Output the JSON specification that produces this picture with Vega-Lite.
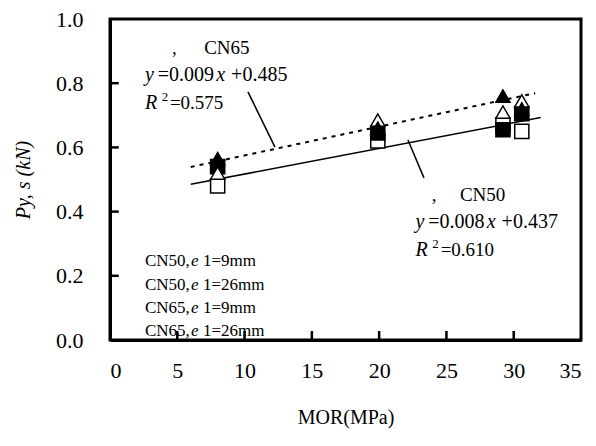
{
  "$schema": "https://vega.github.io/schema/vega-lite/v6.json",
  "width": 471,
  "height": 321,
  "autosize": "none",
  "padding": {"left": 110, "top": 19, "right": 15, "bottom": 106},
  "background": "white",
  "config": {
    "view": {"stroke": "black", "strokeWidth": 3},
    "font": "Liberation Serif",
    "axis": {
      "labelFont": "Liberation Serif",
      "titleFont": "Liberation Serif",
      "labelFontSize": 22,
      "titleFontSize": 20,
      "labelColor": "black",
      "titleColor": "black",
      "domainColor": "black",
      "domainWidth": 3,
      "ticks": false,
      "grid": false,
      "titleFontWeight": "normal"
    }
  },
  "datasets": {
    "pts": [
      {"MOR": 8.0, "P": 0.54, "series": "CN50,e1=9mm"},
      {"MOR": 8.0, "P": 0.48, "series": "CN50,e1=26mm"},
      {"MOR": 8.0, "P": 0.565, "series": "CN65,e1=9mm"},
      {"MOR": 8.0, "P": 0.52, "series": "CN65,e1=26mm"},
      {"MOR": 19.9, "P": 0.645, "series": "CN50,e1=9mm"},
      {"MOR": 19.9, "P": 0.62, "series": "CN50,e1=26mm"},
      {"MOR": 19.9, "P": 0.66, "series": "CN65,e1=9mm"},
      {"MOR": 19.9, "P": 0.685, "series": "CN65,e1=26mm"},
      {"MOR": 29.2, "P": 0.655, "series": "CN50,e1=9mm"},
      {"MOR": 29.2, "P": 0.67, "series": "CN50,e1=26mm"},
      {"MOR": 29.2, "P": 0.76, "series": "CN65,e1=9mm"},
      {"MOR": 29.2, "P": 0.71, "series": "CN65,e1=26mm"},
      {"MOR": 30.6, "P": 0.705, "series": "CN50,e1=9mm"},
      {"MOR": 30.6, "P": 0.65, "series": "CN50,e1=26mm"},
      {"MOR": 30.6, "P": 0.72, "series": "CN65,e1=9mm"},
      {"MOR": 30.6, "P": 0.745, "series": "CN65,e1=26mm"}
    ],
    "fits": [
      {"fit": "CN50", "MOR": 6, "P": 0.485},
      {"fit": "CN50", "MOR": 32, "P": 0.693},
      {"fit": "CN65", "MOR": 6, "P": 0.539},
      {"fit": "CN65", "MOR": 31.6, "P": 0.769}
    ],
    "leaders": [
      {"leader": "CN65", "MOR": 10.25, "P": 0.773},
      {"leader": "CN65", "MOR": 12.26, "P": 0.601},
      {"leader": "CN50", "MOR": 22.14, "P": 0.623},
      {"leader": "CN50", "MOR": 23.33, "P": 0.505}
    ],
    "xticks": [
      {"MOR": 5, "P": 0, "P2": 0.028},
      {"MOR": 10, "P": 0, "P2": 0.028},
      {"MOR": 15, "P": 0, "P2": 0.028},
      {"MOR": 20, "P": 0, "P2": 0.028},
      {"MOR": 25, "P": 0, "P2": 0.028},
      {"MOR": 30, "P": 0, "P2": 0.028}
    ],
    "yticks": [
      {"MOR": 0, "MOR2": 0.65, "P": 0.2},
      {"MOR": 0, "MOR2": 0.65, "P": 0.4},
      {"MOR": 0, "MOR2": 0.65, "P": 0.6},
      {"MOR": 0, "MOR2": 0.65, "P": 0.8}
    ],
    "plain": [
      {"MOR": 4.6, "P": 0.91, "label": ","},
      {"MOR": 7.0, "P": 0.91, "label": "CN65"},
      {"MOR": 4.45, "P": 0.738, "label": "=0.575"},
      {"MOR": 23.9, "P": 0.452, "label": ","},
      {"MOR": 26.0, "P": 0.452, "label": "CN50"},
      {"MOR": 24.57, "P": 0.28, "label": "=0.610"}
    ],
    "eq": [
      {"MOR": 3.55, "P": 0.826, "label": "=0.009"},
      {"MOR": 9.0, "P": 0.826, "label": "+0.485"},
      {"MOR": 23.65, "P": 0.368, "label": "=0.008"},
      {"MOR": 29.1, "P": 0.368, "label": "+0.437"}
    ],
    "ital": [
      {"MOR": 2.6, "P": 0.826, "label": "y"},
      {"MOR": 7.9, "P": 0.826, "label": "x"},
      {"MOR": 2.6, "P": 0.738, "label": "R"},
      {"MOR": 22.7, "P": 0.368, "label": "y"},
      {"MOR": 28.0, "P": 0.368, "label": "x"},
      {"MOR": 22.7, "P": 0.28, "label": "R"}
    ],
    "sup": [
      {"MOR": 3.85, "P": 0.757, "label": "2"},
      {"MOR": 23.95, "P": 0.299, "label": "2"}
    ],
    "legend": [
      {"MOR": 2.6, "P": 0.246, "a": "CN50,", "b": "1=9mm"},
      {"MOR": 2.6, "P": 0.171, "a": "CN50,", "b": "1=26mm"},
      {"MOR": 2.6, "P": 0.10, "a": "CN65,", "b": "1=9mm"},
      {"MOR": 2.6, "P": 0.028, "a": "CN65,", "b": "1=26mm"}
    ]
  },
  "encoding": {
    "x": {
      "field": "MOR", "type": "quantitative",
      "scale": {"domain": [0, 35], "nice": false},
      "axis": {"values": [0, 5, 10, 15, 20, 25, 30, 35], "title": "MOR(MPa)", "labelPadding": 20, "titlePadding": 26}
    },
    "y": {
      "field": "P", "type": "quantitative",
      "scale": {"domain": [0, 1], "nice": false},
      "axis": {"values": [0, 0.2, 0.4, 0.6, 0.8, 1.0], "format": ".1f", "title": "Py, s (kN)", "titleFontStyle": "italic", "labelPadding": 27, "titlePadding": 22}
    }
  },
  "layer": [
    {
      "data": {"name": "xticks"},
      "mark": {"type": "rule", "color": "black", "strokeWidth": 2.5},
      "encoding": {"y2": {"field": "P2"}}
    },
    {
      "data": {"name": "yticks"},
      "mark": {"type": "rule", "color": "black", "strokeWidth": 2.5},
      "encoding": {"x2": {"field": "MOR2"}}
    },
    {
      "data": {"name": "fits"},
      "mark": {"type": "line", "color": "black", "strokeWidth": 1.5},
      "transform": [{"filter": "datum.fit == 'CN50'"}],
      "encoding": {}
    },
    {
      "data": {"name": "fits"},
      "mark": {"type": "line", "color": "black", "strokeWidth": 2, "strokeDash": [4, 5]},
      "transform": [{"filter": "datum.fit == 'CN65'"}],
      "encoding": {}
    },
    {
      "data": {"name": "leaders"},
      "mark": {"type": "line", "color": "black", "strokeWidth": 1.5},
      "encoding": {"detail": {"field": "leader"}}
    },
    {
      "data": {"name": "pts"},
      "mark": {"type": "point", "filled": false, "stroke": "black", "strokeWidth": 1.5, "opacity": 1, "size": 200},
      "encoding": {
        "shape": {"field": "series", "type": "nominal",
          "scale": {"domain": ["CN50,e1=9mm", "CN50,e1=26mm", "CN65,e1=9mm", "CN65,e1=26mm"], "range": ["square", "square", "triangle-up", "triangle-up"]},
          "legend": null},
        "fill": {"field": "series", "type": "nominal",
          "scale": {"domain": ["CN50,e1=9mm", "CN50,e1=26mm", "CN65,e1=9mm", "CN65,e1=26mm"], "range": ["black", "white", "black", "white"]},
          "legend": null},
        "order": {"field": "series"}
      }
    },
    {
      "data": {"name": "plain"},
      "mark": {"type": "text", "align": "left", "baseline": "middle", "fontSize": 19, "font": "Liberation Serif", "color": "black"},
      "encoding": {"text": {"field": "label"}}
    },
    {
      "data": {"name": "eq"},
      "mark": {"type": "text", "align": "left", "baseline": "middle", "fontSize": 20, "font": "Liberation Serif", "color": "black"},
      "encoding": {"text": {"field": "label"}}
    },
    {
      "data": {"name": "ital"},
      "mark": {"type": "text", "align": "left", "baseline": "middle", "fontSize": 20, "fontStyle": "italic", "font": "Liberation Serif", "color": "black"},
      "encoding": {"text": {"field": "label"}}
    },
    {
      "data": {"name": "sup"},
      "mark": {"type": "text", "align": "left", "baseline": "middle", "fontSize": 13, "font": "Liberation Serif", "color": "black"},
      "encoding": {"text": {"field": "label"}}
    },
    {
      "data": {"name": "legend"},
      "mark": {"type": "text", "align": "left", "baseline": "middle", "fontSize": 17, "font": "Liberation Serif", "color": "black"},
      "encoding": {"text": {"field": "a"}}
    },
    {
      "data": {"name": "legend"},
      "mark": {"type": "text", "align": "left", "baseline": "middle", "fontSize": 17, "fontStyle": "italic", "font": "Liberation Serif", "color": "black", "dx": 46},
      "encoding": {"text": {"value": "e"}}
    },
    {
      "data": {"name": "legend"},
      "mark": {"type": "text", "align": "left", "baseline": "middle", "fontSize": 17, "font": "Liberation Serif", "color": "black", "dx": 58},
      "encoding": {"text": {"field": "b"}}
    }
  ]
}
